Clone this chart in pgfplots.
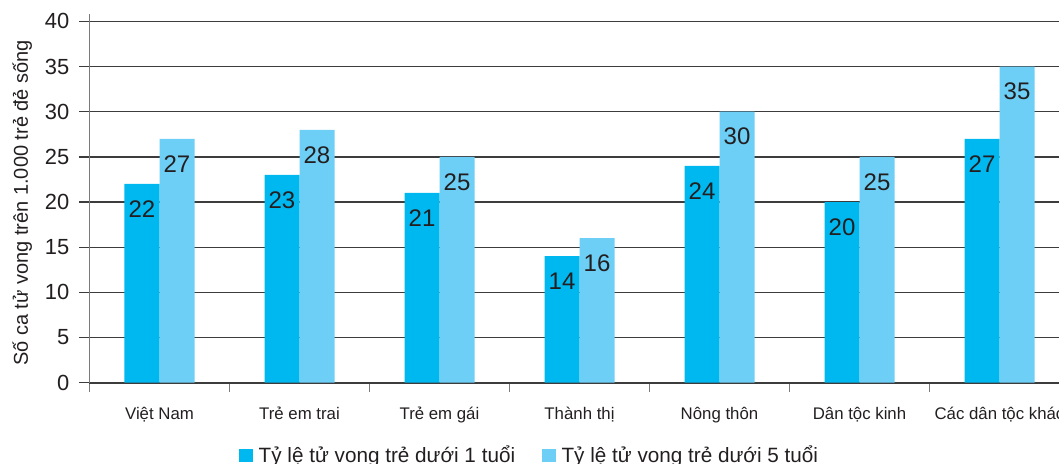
\documentclass[border=0pt]{standalone}
\usepackage{fontspec}
\setmainfont{Liberation Sans}
\usepackage{pgfplots}
\pgfplotsset{compat=1.18}

\definecolor{under1}{HTML}{00B8F0}
\definecolor{under5}{HTML}{6ECFF6}
\definecolor{gridgray}{HTML}{3C3C3C}
\definecolor{axisgray}{HTML}{7A7A7A}
\definecolor{labelink}{HTML}{231F20}

% Under-1 and under-5 mortality per 1,000 live births
\pgfplotstableread{
x  u1  u5
0  22  27
1  23  28
2  21  25
3  14  16
4  24  30
5  20  25
6  27  35
}\mortality

\begin{document}
\begin{tikzpicture}
\begin{axis}[
  at={(0pt,0pt)}, anchor=south west,
  scale only axis,
  width=980pt, height=368.4pt,
  xmin=-0.5, xmax=6.5, ymin=0, ymax=40.8,
  axis x line*=bottom, axis y line*=left,
  axis line style={-},
  x axis line style={draw=gridgray, line width=1.8pt},
  y axis line style={draw=axisgray, line width=1.3pt},
  ybar=0pt, bar width=35pt,
  ytick={0,5,...,40},
  ymajorgrids,
  major grid style={draw=gridgray, line width=1.3pt},
  tick align=outside,
  major tick length=10pt,
  minor tick length=9pt,
  y tick style={draw=gridgray, line width=1.3pt},
  major x tick style={draw=none},
  minor x tick style={draw=axisgray, line width=1.3pt},
  xtick={0,...,6},
  minor xtick={-0.5,0.5,...,6.5},
  xticklabels={Việt Nam, Trẻ em trai, Trẻ em gái, Thành thị, Nông thôn, Dân tộc kinh, Các dân tộc khác},
  xticklabel style={font=\fontsize{16.8}{18}\selectfont, text=labelink, anchor=base, yshift=-27.2pt},
  yticklabel style={font=\fontsize{21.9}{22}\selectfont, text=labelink, inner sep=0pt, xshift=-10pt},
  /pgf/number format/assume math mode=true,
  every axis y label/.style={at={(axis description cs:-0.0628,0.4875)}, rotate=90, anchor=base,
    font=\fontsize{20}{22}\selectfont, text=labelink},
  ylabel={Số ca tử vong trên 1.000 trẻ đẻ sống},
  nodes near coords,
  every node near coord/.append style={font=\fontsize{24}{24}\selectfont, text=labelink, anchor=center, yshift=-25pt},
  legend columns=2,
  legend style={draw=none, fill=none, inner sep=0pt, outer sep=0pt,
    at={(axis description cs:0.1529,-0.167)}, anchor=north west,
    font=\fontsize{20.7}{24}\selectfont, text=labelink,
    /tikz/every odd column/.append style={column sep=4pt},
    /tikz/every even column/.append style={column sep=25pt}},
  legend image code/.code={\fill[#1] (0pt,-6.7pt) rectangle (13.4pt,6.7pt);},
]
\addplot[fill=under1, draw=none] table[x=x, y=u1] {\mortality};
\addlegendentry{Tỷ lệ tử vong trẻ dưới 1 tuổi}
\addplot[fill=under5, draw=none] table[x=x, y=u5] {\mortality};
\addlegendentry{Tỷ lệ tử vong trẻ dưới 5 tuổi}
\end{axis}
\pgfresetboundingbox
\path[use as bounding box] (-89.5pt,-80.4pt) rectangle (969.5pt,382.6pt);
\end{tikzpicture}
\end{document}
